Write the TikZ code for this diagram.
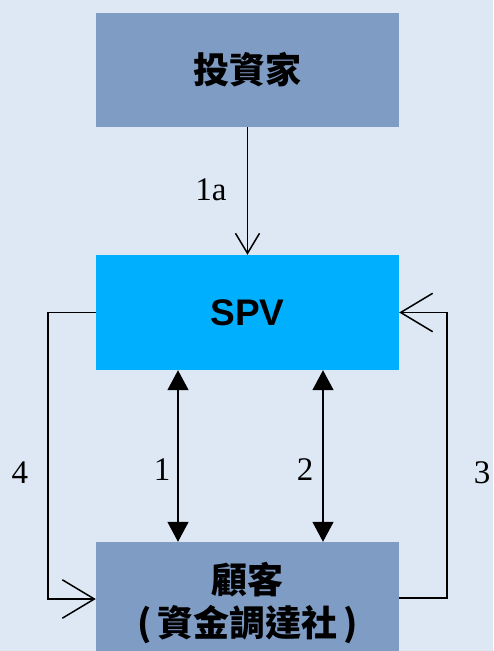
\documentclass[tikz,border=0pt]{standalone}
\usepackage{fontspec}
\setmainfont{Liberation Serif}
\newfontfamily\arialfont{Liberation Sans}
\newfontfamily\cjkfont{Noto Sans CJK TC}
\usetikzlibrary{arrows.meta}
\definecolor{bgblue}{HTML}{DEE8F4}
\definecolor{boxgray}{HTML}{7F9CC5}
\definecolor{spvblue}{HTML}{00B0FF}
\tikzset{
  box/.style={draw=none, minimum width=303pt, inner sep=0pt, align=center},
  flow/.style={draw=black, line width=1.5pt},
  openhead/.style={-{Straight Barb[length=#1, width=1.2*#1, line width=1.5pt]}},
  twohead/.style={{Triangle[length=20pt,width=21pt]}-{Triangle[length=20pt,width=21pt]}},
  numlabel/.style={font=\fontsize{33}{33}\selectfont, inner sep=0pt}
}
\begin{document}
\begin{tikzpicture}[x=1pt, y=-1pt]
  \fill[bgblue] (0,0) rectangle (493,651);
  \useasboundingbox (0,0) rectangle (493,651);
  \clip (0,0) rectangle (493,651);

  % boxes
  \node[box, fill=boxgray, minimum height=114pt,
        font=\cjkfont\bfseries\fontsize{36}{36}\selectfont] (inv) at (247.5,70) {投資家};
  \node[box, fill=spvblue, minimum height=115pt,
        font=\arialfont\bfseries\fontsize{37}{37}\selectfont] (spv) at (247.5,312.5) {SPV};
  \node[box, fill=boxgray, minimum height=122pt,
        font=\cjkfont\bfseries\fontsize{36}{43}\selectfont] (cust) at (247.5,603) {顧客\\(\,資金調達社\,)};

  % routing points
  \coordinate (lc) at (48,599);
  \coordinate (rc) at (447,598);
  \coordinate (c1) at (178,0);
  \coordinate (c2) at (323,0);

  % connectors
  \draw[flow, openhead=20pt] (inv.south) -- (spv.north);
  \draw[flow, openhead=32pt] (spv.west) -| (lc) -- (lc -| cust.west);
  \draw[flow, openhead=32pt] (rc -| cust.east) -- (rc) |- (spv.east);
  \draw[flow, twohead] (c1 |- spv.south) -- (c1 |- cust.north);
  \draw[flow, twohead] (c2 |- spv.south) -- (c2 |- cust.north);

  % labels
  \node[numlabel] (l1a) at (211,190) {1a};
  \node[numlabel] (l4) at (20,473) {4};
  \node[numlabel] (l1) at (162,470) {1};
  \node[numlabel] (l2) at (305,470) {2};
  \node[numlabel] (l3) at (482,473) {3};
\end{tikzpicture}
\end{document}
